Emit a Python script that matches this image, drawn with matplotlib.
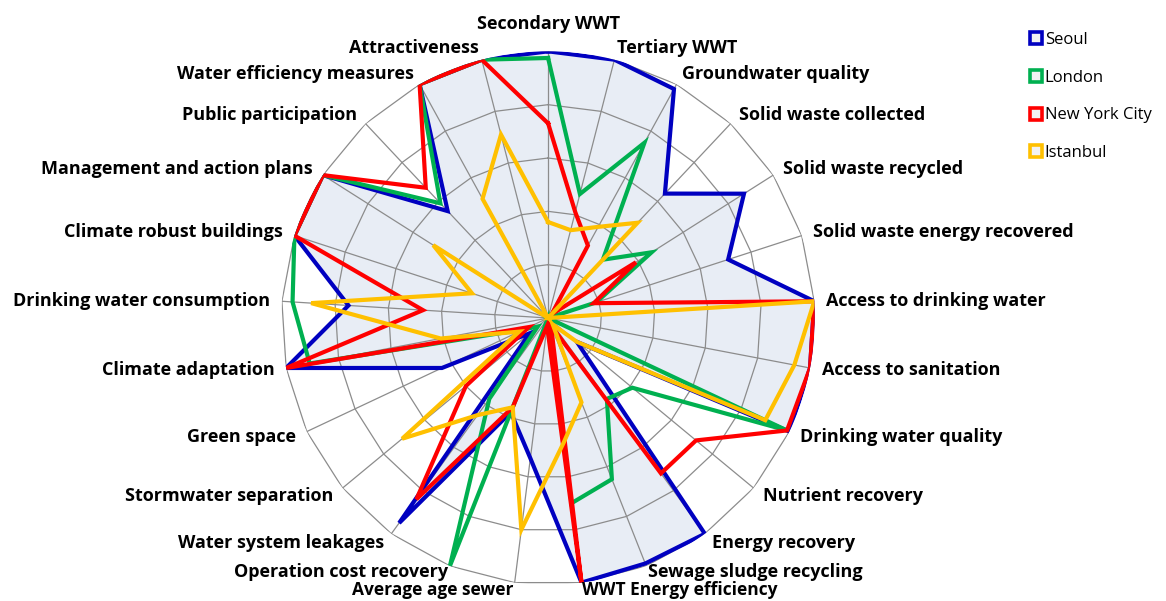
import matplotlib.pyplot as plt
import numpy as np
from matplotlib.lines import Line2D

categories = ["Secondary WWT", "Tertiary WWT", "Groundwater quality", "Solid waste collected",
              "Solid waste recycled", "Solid waste energy recovered", "Access to drinking water",
              "Access to sanitation", "Drinking water quality", "Nutrient recovery", "Energy recovery",
              "Sewage sludge recycling", "WWT Energy efficiency", "Average age sewer",
              "Operation cost recovery", "Water system leakages", "Stormwater separation",
              "Green space", "Climate adaptation", "Drinking water consumption",
              "Climate robust buildings", "Management and action plans", "Public participation",
              "Water efficiency measures", "Attractiveness"]

seoul = [10, 10, 9.8, 6.4, 8.7, 7.1, 10, 10, 10, 1.4, 10, 9.9, 10,
         5.3, 3.8, 9.5, 0.9, 4.4, 10, 7.5, 10, 10, 5.5, 10, 10]
london = [9.75, 4.8, 7.5, 3.0, 4.6, 1.9, 0, 0, 9.9, 4.1, 3.75, 6.5, 7.0,
          0, 10, 3.75, 0.5, 1.0, 9.1, 9.6, 10, 10, 5.9, 10, 10]
nyc = [7.3, 4.1, 3.1, 0.2, 3.9, 1.8, 10, 10, 9.9, 7.2, 7.2, 0.3, 10,
       0.3, 3.6, 8.4, 4.0, 0.8, 10, 4.7, 10, 10, 6.7, 10, 10]
istanbul = [3.6, 3.4, 3.9, 4.9, 0, 0, 10, 9.4, 9.0, 1.4, 0.3, 3.4, 4.7,
            8.0, 3.6, 4.5, 7.1, 1.2, 4.1, 8.9, 3.0, 5.1, 0, 5.1, 7.1]

cities = ["Seoul", "London", "New York City", "Istanbul"]
colors = ["#0000C0", "#00B050", "#FF0000", "#FFC000"]
rings = [2, 4, 6, 8, 10]

n = len(categories)
angles = np.linspace(0, 2 * np.pi, n, endpoint=False)
closed = np.append(angles, angles[0])

def close(v):
    return np.append(v, v[0])

fig = plt.figure(figsize=(11.66, 6.01), dpi=100)
ax = fig.add_axes([0.2413, 0.0271, 0.4575, 0.8875], projection='polar')
ax.set_theta_zero_location('N')
ax.set_theta_direction(-1)
ax.set_ylim(0, 10)
ax.set_xticks([])
ax.set_yticks([])
ax.grid(False)
ax.spines['polar'].set_visible(False)
ax.patch.set_alpha(0)

# seoul fill under the grid
ax.fill(closed, close(seoul), color="#E8EDF5", zorder=1, lw=0)

# polygon grid like excel
for r in rings:
    ax.plot(closed, np.full(n + 1, r), color="#8C8C8C", lw=0.9, zorder=2)
for a in angles:
    ax.plot([a, a], [0, 10], color="#8C8C8C", lw=0.9, zorder=2)

for vals, col in zip([seoul, london, nyc, istanbul], colors):
    ax.plot(closed, close(vals), color=col, lw=3.0, zorder=3,
            solid_joinstyle='miter')

for a, name in zip(angles, categories):
    s, c = np.sin(a), np.cos(a)
    ha = 'left' if s > 0.1 else ('right' if s < -0.1 else 'center')
    va = 'bottom' if c > 0.99 else 'center'
    d = 18 if c > 0.99 else 12
    size = 13
    # bottom of the chart is crowded, squeeze those labels a little
    if c < -0.98:
        d, size = 7, 12.5
    elif c < -0.9:
        d = 6
    ax.annotate(name, xy=(a, 10), xytext=(d * s, d * c), textcoords='offset pixels',
                ha=ha, va=va, fontsize=size, fontweight='bold', family='Open Sans',
                annotation_clip=False, zorder=4)

handles = [Line2D([], [], ls='none', marker='s', markersize=9, markeredgewidth=2.6,
                  markeredgecolor=col, markerfacecolor='#F2F2F2') for col in colors]
fig.legend(handles, cities, loc='upper left', bbox_to_anchor=(1014 / 1166, 1 - 17 / 601),
           frameon=False, prop={'family': 'Open Sans', 'size': 12},
           handlelength=0.8, handletextpad=0.15, labelspacing=1.3)

fig.savefig("out.png", dpi=100)
